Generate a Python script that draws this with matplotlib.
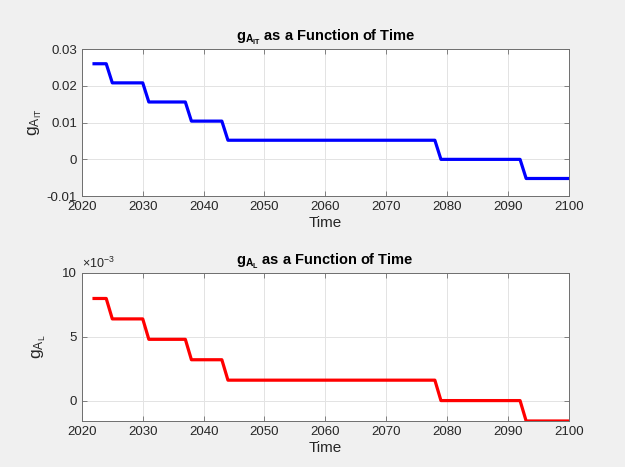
import matplotlib
matplotlib.use('Agg')
import matplotlib.pyplot as plt
from matplotlib.ticker import FuncFormatter

plt.rcParams['font.family'] = ['Liberation Sans', 'DejaVu Sans']
plt.rcParams['mathtext.fontset'] = 'custom'
plt.rcParams['mathtext.rm'] = 'Liberation Sans'
plt.rcParams['mathtext.it'] = 'Liberation Sans'
plt.rcParams['mathtext.bf'] = 'Liberation Sans:bold'

# corner points of the step curves (year, value)
years = [2022, 2024, 2025, 2030, 2031, 2037, 2038, 2043, 2044, 2078, 2079, 2092, 2093, 2100]
g_AIT = [0.026, 0.026, 0.0208, 0.0208, 0.0156, 0.0156, 0.0104, 0.0104,
         0.0052, 0.0052, 0.0, 0.0, -0.0052, -0.0052]
g_AL = [0.008, 0.008, 0.0064, 0.0064, 0.0048, 0.0048, 0.0032, 0.0032,
        0.0016, 0.0016, 0.0, 0.0, -0.0016, -0.0016]
xticks = [2020, 2030, 2040, 2050, 2060, 2070, 2080, 2090, 2100]

TXT = '#262626'
fig = plt.figure(figsize=(6.25, 4.67), dpi=100, facecolor='#f0f0f0')
ax1 = fig.add_axes([0.131, 0.580, 0.779, 0.315])
ax2 = fig.add_axes([0.131, 0.0985, 0.779, 0.317])

def style(ax):
    ax.set_facecolor('white')
    ax.set_xlim(2020, 2100)
    ax.set_xticks(xticks)
    ax.grid(True, color='#e3e3e3', linewidth=0.7)
    ax.set_axisbelow(True)
    ax.tick_params(direction='in', top=True, right=True, labelsize=9.5,
                   labelcolor=TXT, color='#6e6e6e', length=3.5, width=0.6)
    for s in ax.spines.values():
        s.set_color('#6e6e6e')
        s.set_linewidth(0.7)
    ax.set_xlabel('Time', fontsize=11, color=TXT, labelpad=2)

ax1.plot(years, g_AIT, color='blue', linewidth=2.3)
style(ax1)
ax1.set_ylim(-0.01, 0.03)
ax1.set_yticks([-0.01, 0, 0.01, 0.02, 0.03])
ax1.set_yticklabels(['-0.01', '0', '0.01', '0.02', '0.03'])
ax1.set_ylabel(r'$\mathrm{g_{A_{IT}}}$', fontsize=12.5, color=TXT, labelpad=2)
ax1.set_title(r'$\mathbf{g_{A_{IT}}}$ as a Function of Time', fontsize=10.5,
              fontweight='bold', color='black', pad=6)

ax2.plot(years, g_AL, color='red', linewidth=2.3)
style(ax2)
ax2.set_ylim(-0.0016, 0.01)
ax2.set_yticks([0, 0.005, 0.01])
ax2.yaxis.set_major_formatter(FuncFormatter(lambda v, p: '%g' % round(v * 1000, 6)))
ax2.text(0.0, 1.015, r'$\times\mathregular{10^{-3}}$', transform=ax2.transAxes,
         fontsize=9, color=TXT, ha='left', va='bottom')
ax2.set_ylabel(r'$\mathrm{g_{A_{L}}}$', fontsize=12.5, color=TXT, labelpad=10)
ax2.set_title(r'$\mathbf{g_{A_{L}}}$ as a Function of Time', fontsize=10.5,
              fontweight='bold', color='black', pad=6)

fig.savefig('out.png', dpi=100, facecolor=fig.get_facecolor())
